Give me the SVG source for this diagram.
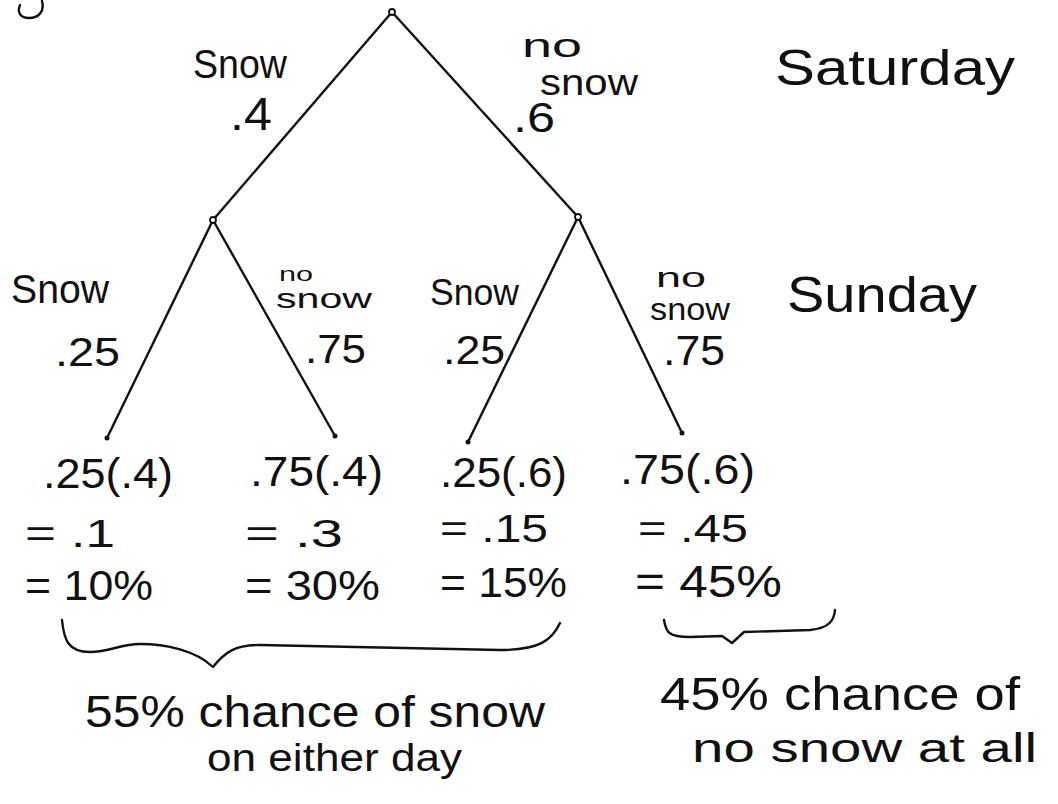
<svg xmlns="http://www.w3.org/2000/svg" width="1058" height="804" viewBox="0 0 1058 804">
<style>
.t{font-family:"Liberation Sans","DejaVu Sans",sans-serif;fill:#111;}
.ln{stroke:#111;stroke-width:2.4;fill:none;stroke-linecap:round;stroke-linejoin:round;}
.nd{fill:#fff;stroke:#111;stroke-width:1.8;}
.tip{fill:#111;}
</style>
<rect width="1058" height="804" fill="#fff"/>
<path class="ln" d="M42,1 C45,12 38,18 29,18 C20,18 17,12 20,5"/>
<g id="connectors">
<line class="ln" x1="392" y1="12" x2="213" y2="220"/>
<line class="ln" x1="392" y1="12" x2="578" y2="217"/>
<line class="ln" x1="213" y1="220" x2="107" y2="438"/>
<line class="ln" x1="213" y1="220" x2="335" y2="436"/>
<line class="ln" x1="578" y1="217" x2="468" y2="442"/>
<line class="ln" x1="578" y1="217" x2="682" y2="433"/>
</g>
<g id="edge-labels">
<text class="t" x="193" y="78" font-size="40" textLength="94" lengthAdjust="spacingAndGlyphs">Snow</text>
<text class="t" x="230" y="130" font-size="46" textLength="42" lengthAdjust="spacingAndGlyphs">.4</text>
<text class="t" font-size="34"><tspan x="522" y="57" textLength="60" lengthAdjust="spacingAndGlyphs">no</tspan><tspan x="540" y="95" font-size="36" textLength="98" lengthAdjust="spacingAndGlyphs">snow</tspan></text>
<text class="t" x="513" y="132" font-size="42" textLength="42" lengthAdjust="spacingAndGlyphs">.6</text>
<text class="t" x="11" y="303" font-size="40" textLength="98" lengthAdjust="spacingAndGlyphs">Snow</text>
<text class="t" x="55" y="366" font-size="40" textLength="65" lengthAdjust="spacingAndGlyphs">.25</text>
<text class="t" font-size="20"><tspan x="279" y="281" textLength="34" lengthAdjust="spacingAndGlyphs">no</tspan><tspan x="276" y="308" font-size="28" textLength="96" lengthAdjust="spacingAndGlyphs">snow</tspan></text>
<text class="t" x="305" y="363" font-size="40" textLength="61" lengthAdjust="spacingAndGlyphs">.75</text>
<text class="t" x="430" y="305" font-size="36" textLength="89" lengthAdjust="spacingAndGlyphs">Snow</text>
<text class="t" x="443" y="364" font-size="40" textLength="62" lengthAdjust="spacingAndGlyphs">.25</text>
<text class="t" font-size="28"><tspan x="656" y="287" textLength="50" lengthAdjust="spacingAndGlyphs">no</tspan><tspan x="650" y="320" font-size="32" textLength="80" lengthAdjust="spacingAndGlyphs">snow</tspan></text>
<text class="t" x="663" y="365" font-size="42" textLength="62" lengthAdjust="spacingAndGlyphs">.75</text>
</g>
<g id="day-labels">
<text class="t" x="775" y="85" font-size="50" textLength="240" lengthAdjust="spacingAndGlyphs">Saturday</text>
<text class="t" x="787" y="312" font-size="50" textLength="190" lengthAdjust="spacingAndGlyphs">Sunday</text>
</g>
<g id="node-root"><circle class="nd" cx="392" cy="12" r="3"/></g>
<g id="node-sat-snow"><circle class="nd" cx="213" cy="220" r="3"/></g>
<g id="node-sat-nosnow"><circle class="nd" cx="578" cy="217" r="3"/></g>
<g id="leaf-snow-snow">
<circle class="tip" cx="107" cy="438" r="2.5"/>
<text class="t" x="43" y="488" font-size="42" textLength="130" lengthAdjust="spacingAndGlyphs">.25(.4)</text>
<text class="t" x="25" y="547" font-size="38" textLength="90" lengthAdjust="spacingAndGlyphs">= .1</text>
<text class="t" x="25" y="600" font-size="42" textLength="128" lengthAdjust="spacingAndGlyphs">= 10%</text>
</g>
<g id="leaf-snow-nosnow">
<circle class="tip" cx="335" cy="436" r="2.5"/>
<text class="t" x="250" y="486" font-size="42" textLength="133" lengthAdjust="spacingAndGlyphs">.75(.4)</text>
<text class="t" x="245" y="547" font-size="38" textLength="98" lengthAdjust="spacingAndGlyphs">= .3</text>
<text class="t" x="245" y="600" font-size="42" textLength="135" lengthAdjust="spacingAndGlyphs">= 30%</text>
</g>
<g id="leaf-nosnow-snow">
<circle class="tip" cx="468" cy="442" r="2.5"/>
<text class="t" x="440" y="487" font-size="42" textLength="127" lengthAdjust="spacingAndGlyphs">.25(.6)</text>
<text class="t" x="440" y="542" font-size="38" textLength="108" lengthAdjust="spacingAndGlyphs">= .15</text>
<text class="t" x="440" y="597" font-size="42" textLength="127" lengthAdjust="spacingAndGlyphs">= 15%</text>
</g>
<g id="leaf-nosnow-nosnow">
<circle class="tip" cx="682" cy="433" r="2.5"/>
<text class="t" x="620" y="484" font-size="42" textLength="135" lengthAdjust="spacingAndGlyphs">.75(.6)</text>
<text class="t" x="638" y="542" font-size="38" textLength="110" lengthAdjust="spacingAndGlyphs">= .45</text>
<text class="t" x="635" y="597" font-size="44" textLength="147" lengthAdjust="spacingAndGlyphs">= 45%</text>
</g>
<g id="summary-snow">
<path class="ln" d="M62,620 C64,640 68,652 90,652 C110,652 120,644 140,644 C165,644 195,650 213,667 C225,652 235,645 260,645 L500,650 C540,650 552,640 560,623"/>
<text class="t" x="85" y="727" font-size="44" textLength="460" lengthAdjust="spacingAndGlyphs">55% chance of snow</text>
<text class="t" x="207" y="771" font-size="38" textLength="255" lengthAdjust="spacingAndGlyphs">on either day</text>
</g>
<g id="summary-nosnow">
<path class="ln" d="M664,620 C666,632 668,637 690,637 L722,636 L732,643 L744,632 L810,630 C830,628 834,620 835,610"/>
<text class="t" x="660" y="710" font-size="46" textLength="360" lengthAdjust="spacingAndGlyphs">45% chance of</text>
<text class="t" x="692" y="762" font-size="40" textLength="345" lengthAdjust="spacingAndGlyphs">no snow at all</text>
</g>
</svg>
